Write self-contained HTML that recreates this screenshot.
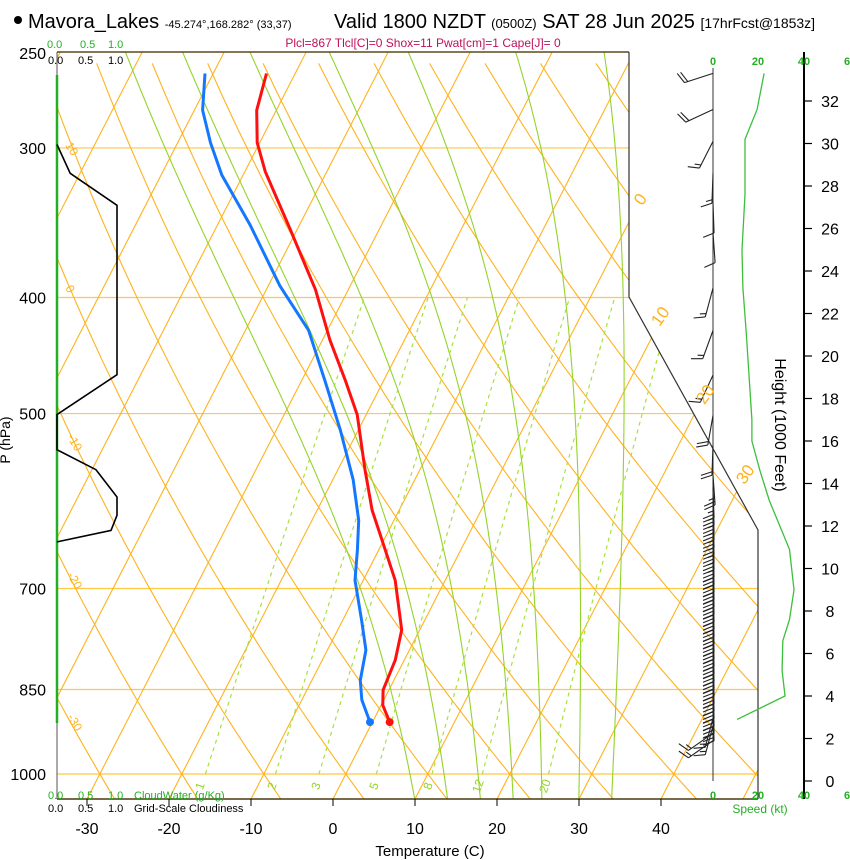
<!DOCTYPE html>
<html><head><meta charset="utf-8">
<style>
html,body{margin:0;padding:0;background:#fff;width:850px;height:860px;overflow:hidden}
svg{display:block;font-family:"Liberation Sans",Arial,sans-serif}
</style></head>
<body>
<svg id="chart" width="850" height="860" viewBox="0 0 850 860" xmlns="http://www.w3.org/2000/svg">
<defs><clipPath id="clipSkew"><polygon points="57,52 629,52 629,297 758,530 758,799 57,799"/></clipPath></defs>
<g id="grid" clip-path="url(#clipSkew)"></g>
<g id="frame">
<line x1="57" y1="52" x2="629" y2="52" stroke="#5a4a20" stroke-width="1.5"/>
<polyline points="629,52 629,297 758,530 758,799" fill="none" stroke="#333" stroke-width="1.2"/>
<line x1="57" y1="799" x2="758" y2="799" stroke="#4a3a10" stroke-width="1.5"/>
<line x1="57" y1="52" x2="57" y2="799" stroke="#555" stroke-width="1"/>
<line x1="57" y1="75" x2="57" y2="723" stroke="#22b022" stroke-width="2.5"/>
<line x1="713" y1="68" x2="713" y2="781" stroke="#333" stroke-width="1"/>
<line x1="804" y1="52" x2="804" y2="799" stroke="#000" stroke-width="2"/>
</g>
<g id="marks"></g>
<g id="texts" font-size="16">
<circle cx="18" cy="20" r="4" fill="#000"/>
<text x="28" y="28" font-size="20">Mavora_Lakes <tspan font-size="11">-45.274°,168.282° (33,37)</tspan></text>
<text x="334" y="28" font-size="20">Valid 1800 NZDT <tspan font-size="13">(0500Z)</tspan> SAT 28 Jun 2025 <tspan font-size="14">[17hrFcst@1853z]</tspan></text>
<text x="423" y="47" font-size="12" fill="#c0105a" text-anchor="middle">Plcl=867 Tlcl[C]=0 Shox=11 Pwat[cm]=1 Cape[J]= 0</text>
<text x="10" y="440" font-size="14" text-anchor="middle" transform="rotate(-90 10 440)">P (hPa)</text>
<text x="775" y="425" font-size="16" text-anchor="middle" transform="rotate(90 775 425)">Height (1000 Feet)</text>
<text x="430" y="856" font-size="15" text-anchor="middle">Temperature (C)</text>
<g font-size="11" fill="#22b022"><text x="47" y="48">0.0</text><text x="80" y="48">0.5</text><text x="108" y="48">1.0</text></g>
<g font-size="11" fill="#000"><text x="48" y="64">0.0</text><text x="78" y="64">0.5</text><text x="108" y="64">1.0</text></g>
<g font-size="11" fill="#22b022"><text x="48" y="799">0.0</text><text x="78" y="799">0.5</text><text x="108" y="799">1.0</text><text x="134" y="799">CloudWater (g/Kg)</text></g>
<g font-size="11" fill="#000"><text x="48" y="812">0.0</text><text x="78" y="812">0.5</text><text x="108" y="812">1.0</text><text x="134" y="812">Grid-Scale Cloudiness</text></g>
<g font-size="11" fill="#22b022" font-weight="bold" text-anchor="middle"><text x="713" y="65">0</text><text x="758" y="65">20</text><text x="804" y="65">40</text><text x="847" y="65">6</text></g>
<g font-size="11" fill="#22b022" font-weight="bold" text-anchor="middle"><text x="713" y="799">0</text><text x="758" y="799">20</text><text x="804" y="799">40</text><text x="847" y="799">6</text></g>
<text x="760" y="813" font-size="12" fill="#22b022" text-anchor="middle">Speed (kt)</text>
</g>
</svg>
<script>
// ---- data ----
const pressureTicks=[250,300,400,500,700,850,1000];
const tempTicks=[-30,-20,-10,0,10,20,30,40];
const heightTicks=[0,2,4,6,8,10,12,14,16,18,20,22,24,26,28,30,32];
const tempP=[260,279,297,314,350,394,434,469,501,557,602,638,689,758,803,851,876,905];
const tempT=[-53.5,-52.4,-50.3,-47.5,-41.0,-34.0,-29.1,-24.7,-21.1,-16.7,-13.3,-10.2,-6.1,-2.2,-1.1,-0.7,0.2,2.1];
const dewP=[260,279,297,316,348,391,426,469,516,568,614,650,689,744,788,835,867,905];
const dewT=[-61.0,-59.0,-56.0,-52.6,-46.0,-38.6,-32.3,-27.2,-22.2,-17.5,-14.3,-12.6,-11.0,-7.7,-5.3,-4.1,-2.7,-0.3];
const cloudP=[298,315,335,464,501,536,557,587,608,626,640];
const cloudFrac=[0,0.22,1.0,1.0,0,0,0.65,1.0,1.0,0.9,0];
const speedH=[2.9,4.0,5.2,6.6,7.6,9.0,10.9,13.2,14.6,16.0,17.0,21.2,23.2,25.0,27.6,30.2,31.6,33.3];
const speedKt=[10.7,32,30.7,31,34,36,34,25,20.9,17.3,17.3,14.7,13.3,12.9,14.2,14.2,19.6,22.7];
const barbH=[33.3,31.6,30.1,28.6,27.2,25.8,23.2,21.2,19.1,17.2,15.8,14.4];
const barbDir=[252,245,207,182,178,176,195,200,205,190,182,176];
const barbSpd=[20,20,15,15,10,10,15,15,15,20,20,25];
const mixRatios=[1,2,3,5,8,12,20];
const moistStart=[10,14,18,22,25.5,30,34];

// ---- axes ----
const yP=p=>774-520*Math.log(1000/p);
const xT=(T,p)=>333+8.2*T+(799-yP(p))*0.513;
const yH=h=>781-21.25*h;
const xS=s=>713+2.25*s;
const xC=f=>57+f*60;
function yInv(y){return 1000*Math.exp((y-774)/520);}
const NS="http://www.w3.org/2000/svg";
function mk(tag,attrs,parent){const e=document.createElementNS(NS,tag);for(const k in attrs)e.setAttribute(k,attrs[k]);parent.appendChild(e);return e;}
const grid=document.getElementById('grid'),marks=document.getElementById('marks'),texts=document.getElementById('texts');
const ORANGE="#ffb21e";
pressureTicks.forEach(p=>{if(p===250)return;const l=mk('line',{x1:57,x2:758,y1:yP(p),y2:yP(p),stroke:"#ffc845","stroke-width":1.2},grid);

});
for(let T=-130;T<=50;T+=10){const l=mk('line',{x1:xT(T,1050),y1:yP(1050),x2:xT(T,245),y2:yP(245),stroke:ORANGE,"stroke-width":1.1},grid);

}
for(let th=-60;th<=250;th+=10){let pts=[];for(let p=1050;p>=245;p-=15){const T=(th+273.15)*Math.pow(p/1000,0.286)-273.15;pts.push(xT(T,p).toFixed(1)+','+yP(p).toFixed(1));}
const l=mk('polyline',{points:pts.join(' '),fill:'none',stroke:ORANGE,"stroke-width":1.1},grid);

}
function es(T){return 6.112*Math.exp(17.67*T/(T+243.5));}
moistStart.forEach(T0=>{let T=T0+273.15,p=1050,pts=[];const n=200,lnEnd=Math.log(245),lnStart=Math.log(1050),d=(lnEnd-lnStart)/n;
for(let i=0;i<=n;i++){pts.push(xT(T-273.15,p).toFixed(1)+','+yP(p).toFixed(1));
const e=es(T-273.15),rs=0.622*e/(p-e),Lv=2.5e6,Rd=287,cp=1005;
const dT=(Rd*T+Lv*rs)/(cp+Lv*Lv*rs*0.622/(Rd*T*T));T+=dT*d;p=Math.exp(lnStart+(i+1)*d);}
const l=mk('polyline',{points:pts.join(' '),fill:'none',stroke:"#94d32a","stroke-width":1.1},grid);

});
function tdFromW(w,p){const e=w*p/(622+w),a=Math.log(e/6.112);return 243.5*a/(17.67-a);}
mixRatios.forEach(w=>{let pts=[];for(let p=1000;p>=400;p-=20)pts.push(xT(tdFromW(w,p),p).toFixed(1)+','+yP(p).toFixed(1));
const l=mk('polyline',{points:pts.join(' '),fill:'none',stroke:"#a8e040","stroke-width":1.2,"stroke-dasharray":"4,4"},grid);

});
const mrLblX=[200,272,316,374,428,478,545];
mixRatios.forEach((w,i)=>{const t=mk('text',{x:mrLblX[i],y:790,"font-size":12,fill:"#94d32a","text-anchor":"middle",transform:`rotate(-70 ${mrLblX[i]} 786)`},texts);t.textContent=w;

});
[[0,640,205],[10,660,322],[20,705,400],[30,745,480]].forEach(a=>{const t=mk('text',{x:a[1],y:a[2],"font-size":17,fill:ORANGE,"text-anchor":"middle",transform:`rotate(-55 ${a[1]} ${a[2]-6})`},texts);t.textContent=a[0];

});
[["10",65,145],["0",65,288],["-10",67,437],["-20",67,575],["-30",67,717]].forEach(a=>{const t=mk('text',{x:a[1],y:a[2],"font-size":12,fill:ORANGE,transform:`rotate(60 ${a[1]} ${a[2]})`},texts);t.textContent=a[0];

});
pressureTicks.forEach(p=>{const t=mk('text',{x:46,y:yP(p)+6,"font-size":16,"text-anchor":"end"},texts);t.textContent=p;

});
tempTicks.forEach(T=>{const x=xT(T,yInv(799));mk('line',{x1:x,x2:x,y1:799,y2:806,stroke:"#000"},marks);
const t=mk('text',{x:x,y:834,"font-size":16,"text-anchor":"middle"},texts);t.textContent=T;

});
heightTicks.forEach(h=>{mk('line',{x1:804,x2:812,y1:yH(h),y2:yH(h),stroke:"#000","stroke-width":1.2},marks);
const t=mk('text',{x:830,y:yH(h)+6,"font-size":16,"text-anchor":"middle"},texts);t.textContent=h;

});
{const pts=cloudP.map((p,i)=>xC(cloudFrac[i]).toFixed(1)+','+yP(p).toFixed(1));
const l=mk('polyline',{points:pts.join(' '),fill:'none',stroke:"#000","stroke-width":1.6},marks);

}
{const pts=speedH.map((h,i)=>xS(speedKt[i]).toFixed(1)+','+yH(h).toFixed(1));
const l=mk('polyline',{points:pts.join(' '),fill:'none',stroke:"#3cbf3c","stroke-width":1.3},marks);

}
function prof(P,T,color,name){const pts=P.map((p,i)=>xT(T[i],p).toFixed(1)+','+yP(p).toFixed(1));
const l=mk('polyline',{points:pts.join(' '),fill:'none',stroke:color,"stroke-width":3,"stroke-linejoin":"round"},marks);


const n=P.length-1;const c=mk('circle',{cx:xT(T[n],P[n]),cy:yP(P[n]),r:4,fill:color},marks);

}
prof(dewP,dewT,"#1478ff","dewpoint-line");
prof(tempP,tempT,"#ff1010","temperature-line");
function barb(h,dir,spd){const g=mk('g',{stroke:"#222","stroke-width":1.1,fill:"none"},marks);


const r=dir*Math.PI/180,sx=Math.sin(r),sy=-Math.cos(r),x0=713,y0=yH(h),L=30;
const ex=x0+sx*L,ey=y0+sy*L;mk('line',{x1:x0,y1:y0,x2:ex,y2:ey},g);
const px=-sy,py=sx;let rem=Math.round(spd/5)*5,pos=0;
while(rem>=10){const bx=ex-sx*pos,by=ey-sy*pos;mk('line',{x1:bx,y1:by,x2:bx+px*11+sx*4,y2:by+py*11+sy*4},g);rem-=10;pos+=3.5;}
if(rem>=5){const bx=ex-sx*pos,by=ey-sy*pos;mk('line',{x1:bx,y1:by,x2:bx+px*6+sx*2,y2:by+py*6+sy*2},g);}}
barbH.forEach((h,i)=>barb(h,barbDir[i],barbSpd[i]));
const lowH=[];for(let h=13.8;h>=1.8;h-=0.35)lowH.push(+h.toFixed(2));
const lowDir=lowH.map(h=>h<2.4?235:(h<3.2?195:178));
const lowSpd=lowH.map(h=>h<3?15:(h<11?30:25));
lowH.forEach((h,i)=>barb(h,lowDir[i],lowSpd[i]));
</script>
</body></html>
